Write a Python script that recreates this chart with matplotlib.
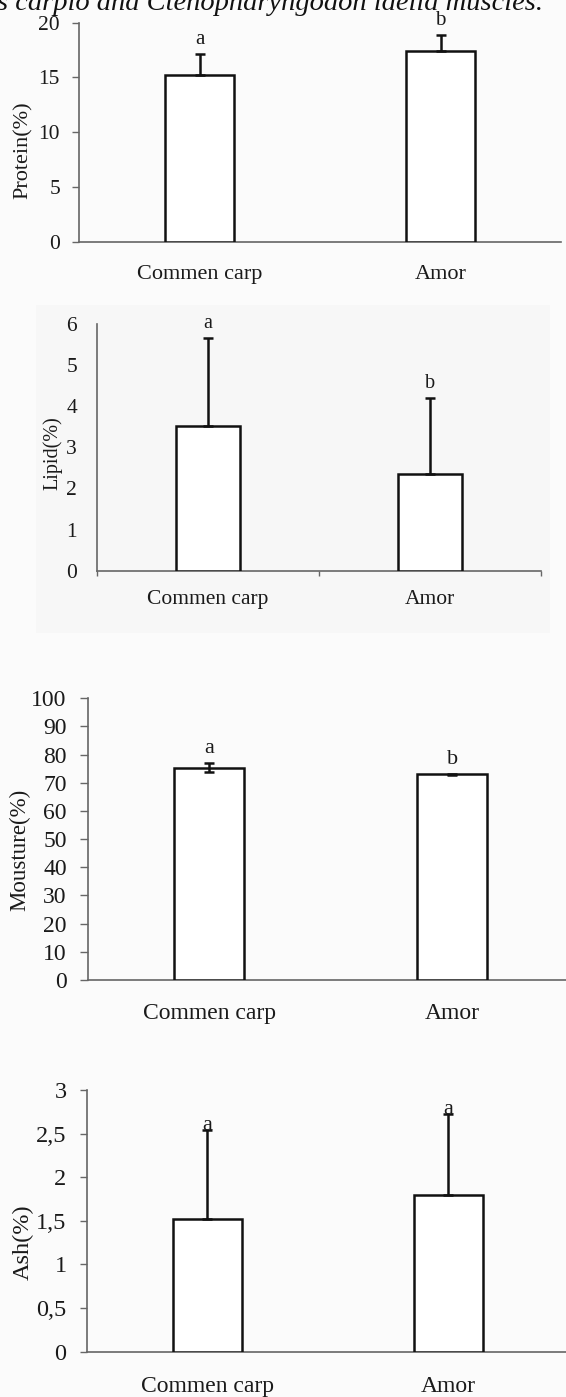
import numpy as np
import matplotlib
matplotlib.use("Agg")
import matplotlib.pyplot as plt
from matplotlib.patches import Rectangle

plt.rcParams["font.family"] = ["Liberation Serif", "DejaVu Serif"]

CATEGORIES = ["Commen carp", "Amor"]

PROTEIN_MEAN = [15.2, 17.45]
PROTEIN_SD = [1.95, 1.45]
PROTEIN_LETTERS = ["a", "b"]
PROTEIN_TICKS = [0, 5, 10, 15, 20]

LIPID_MEAN = [3.53, 2.36]
LIPID_SD = [2.13, 1.83]
LIPID_LETTERS = ["a", "b"]
LIPID_TICKS = [0, 1, 2, 3, 4, 5, 6]

MOISTURE_MEAN = [75.4, 73.0]
MOISTURE_SD = [1.5, 0.3]
MOISTURE_LETTERS = ["a", "b"]
MOISTURE_TICKS = [0, 10, 20, 30, 40, 50, 60, 70, 80, 90, 100]

ASH_MEAN = [1.52, 1.80]
ASH_SD = [1.02, 0.92]
ASH_LETTERS = ["a", "a"]
ASH_TICKS = [0, 0.5, 1, 1.5, 2, 2.5, 3]
ASH_TICK_LABELS = ["0", "0,5", "1", "1,5", "2", "2,5", "3"]

TITLE = "s carpio and Ctenopharyngodon idella muscles."

W, H = 566, 1397
DPI = 100
PX = 72 / DPI  # points per pixel

fig = plt.figure(figsize=(W / DPI, H / DPI), dpi=DPI, facecolor="#fbfbfb")

# faint grey backdrop behind the lipid panel, like in the scanned figure
fig.patches.append(Rectangle((36 / W, 1 - 633 / H), (550 - 36) / W, (633 - 305) / H,
                             transform=fig.transFigure, facecolor="#f7f7f7",
                             edgecolor="none", zorder=-10))

fig.text(-3 / W, 1 - 10 / H, TITLE, fontsize=20.5, style="italic",
         ha="left", va="baseline", color="#111111")


def pix_axes(x0, x1, ytop, ybot):
    # axes rectangle given in image pixels
    return fig.add_axes([x0 / W, 1 - ybot / H, (x1 - x0) / W, (ybot - ytop) / H])


def panel(ax, mean, sd, letters, ylim, ticks, ticklabels, ylabel, label_xy,
          two_sided=False, tick_fs=15, lab_fs=16, ylab_fs=16, ytick_len=7,
          ypad=9, xpad=13, letter_off=10):
    x = np.arange(len(mean))
    ax.bar(x, mean, width=0.287, color="white", edgecolor="#111111",
           linewidth=1.8, zorder=3)
    if two_sided:
        yerr = sd
    else:
        yerr = [np.zeros(len(sd)), sd]
    ax.errorbar(x, mean, yerr=yerr, fmt="none", ecolor="#111111",
                elinewidth=1.8, capsize=3.5, capthick=1.8, zorder=4)
    for xi, m, s, let in zip(x, mean, sd, letters):
        ax.annotate(let, (xi, m + s), xytext=(0, letter_off * PX),
                    textcoords="offset points", ha="center", va="baseline",
                    fontsize=lab_fs - 1, color="#1a1a1a", zorder=5)

    ax.set_xlim(-0.5, 1.5)
    ax.set_ylim(*ylim)
    ax.set_facecolor("none")
    for side in ["top", "right"]:
        ax.spines[side].set_visible(False)
    for side in ["left", "bottom"]:
        ax.spines[side].set_color("#666666")
        ax.spines[side].set_linewidth(1.2)

    ax.set_yticks(ticks)
    ax.set_yticklabels(ticklabels, fontsize=tick_fs, color="#1a1a1a")
    ax.tick_params(axis="y", length=ytick_len * PX, width=1.0, color="#666666",
                   pad=ypad * PX)
    ax.set_xticks(x)
    ax.set_xticklabels(CATEGORIES, fontsize=lab_fs, color="#1a1a1a")
    ax.tick_params(axis="x", which="major", length=0, pad=xpad * PX)

    ax.set_ylabel(ylabel, fontsize=ylab_fs, color="#1a1a1a")
    ax.yaxis.set_label_coords(*label_xy)
    ax.yaxis.label.set_va("center")


# Protein
ax1 = pix_axes(79, 561, 22.7, 241.7)
panel(ax1, PROTEIN_MEAN, PROTEIN_SD, PROTEIN_LETTERS, (0, 20), PROTEIN_TICKS,
      [str(t) for t in PROTEIN_TICKS], "Protein(%)", (-0.115, 0.42),
      tick_fs=15.5, lab_fs=16, ylab_fs=16, ytick_len=7, ypad=12, xpad=23)

# Lipid
ax2 = pix_axes(97, 541, 324, 570.7)
panel(ax2, LIPID_MEAN, LIPID_SD, LIPID_LETTERS, (0, 6), LIPID_TICKS,
      [str(t) for t in LIPID_TICKS], "Lipid(%)", (-0.101, 0.477),
      tick_fs=15.5, lab_fs=15.5, ylab_fs=14.5, ytick_len=0, ypad=20, xpad=19)
ax2.set_xticks([-0.5, 0.5, 1.5], minor=True)
ax2.tick_params(axis="x", which="minor", length=5 * PX, width=1.0,
                color="#666666", direction="out")

# Moisture
ax3 = pix_axes(87.7, 573.7, 698.3, 980)
panel(ax3, MOISTURE_MEAN, MOISTURE_SD, MOISTURE_LETTERS, (0, 100), MOISTURE_TICKS,
      [str(t) for t in MOISTURE_TICKS], "Mousture(%)", (-0.139, 0.461),
      two_sided=True, tick_fs=17, lab_fs=17, ylab_fs=16.5, ytick_len=8,
      ypad=13, xpad=23)

# Ash
ax4 = pix_axes(86.6, 568.6, 1090, 1351.7)
panel(ax4, ASH_MEAN, ASH_SD, ASH_LETTERS, (0, 3), ASH_TICKS, ASH_TICK_LABELS,
      "Ash(%)", (-0.131, 0.42), tick_fs=17.5, lab_fs=17, ylab_fs=17.5,
      ytick_len=7, ypad=13, xpad=24, letter_off=0)

fig.savefig("out.png", dpi=DPI, facecolor=fig.get_facecolor())
